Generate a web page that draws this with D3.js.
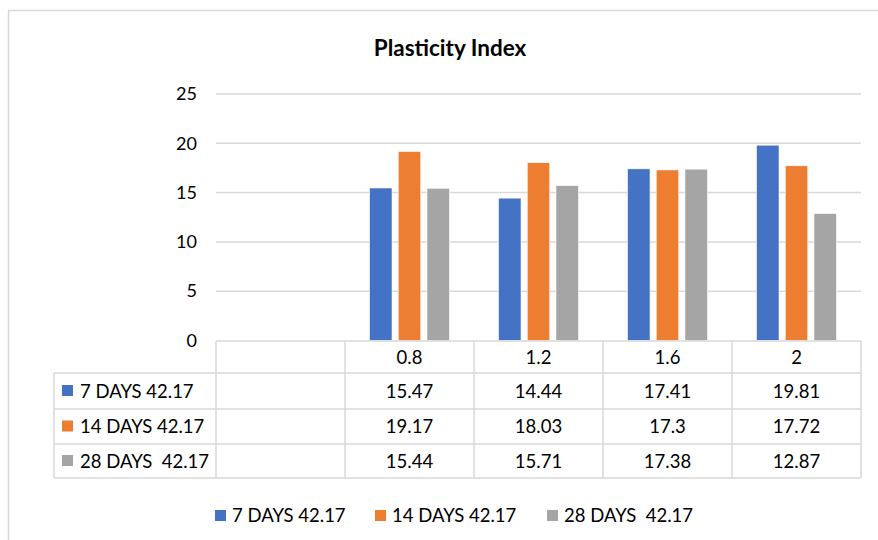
<!DOCTYPE html>
<html><head><meta charset="utf-8">
<script src="https://cdn.jsdelivr.net/npm/d3@7"></script>
<style>body{margin:0;background:#fff}svg{display:block}text{font-family:Lato,"Open Sans",sans-serif;fill:#000}</style>
</head><body><svg id="c" width="878" height="540"></svg>
<script>
const categories = ["", "0.8", "1.2", "1.6", "2"];
const seriesNames = ["7 DAYS 42.17", "14 DAYS 42.17", "28 DAYS  42.17"];
const days7 = [null, 15.47, 14.44, 17.41, 19.81];
const days14 = [null, 19.17, 18.03, 17.3, 17.72];
const days28 = [null, 15.44, 15.71, 17.38, 12.87];
const tableLabels7 = ["", "15.47", "14.44", "17.41", "19.81"];
const tableLabels14 = ["", "19.17", "18.03", "17.3", "17.72"];
const tableLabels28 = ["", "15.44", "15.71", "17.38", "12.87"];
const yTicks = [0, 5, 10, 15, 20, 25];
const colors = ["#4472C4", "#ED7D31", "#A5A5A5"];

const series = [days7, days14, days28];
const tableLabels = [tableLabels7, tableLabels14, tableLabels28];
const svg = d3.select("#c");
const grid = "#d9d9d9";
const fs = "18.5px";

// chart border
svg.append("rect").attr("x", 8.5).attr("y", 10.5).attr("width", 900).attr("height", 600)
  .attr("fill", "none").attr("stroke", grid).attr("stroke-width", 1.5);

// title
svg.append("text").attr("x", 450).attr("y", 56).attr("text-anchor", "middle")
  .style("font-weight", "bold").style("font-size", "22.5px").text("Plasticity Index");

const x0 = d3.scaleBand().domain(categories.map((d, i) => i)).range([216, 861]).padding(0);
const x1 = d3.scaleBand().domain([0, 1, 2]).range([24.5, 104.5]).paddingInner(0.216).paddingOuter(0);
const y = d3.scaleLinear().domain([0, 25]).range([340.5, 94]);

// gridlines
svg.append("g").selectAll("line").data(yTicks.filter(d => d > 0)).join("line")
  .attr("x1", 216).attr("x2", 861).attr("y1", d => y(d)).attr("y2", d => y(d))
  .attr("stroke", grid).attr("stroke-width", 1.5);

// y labels
const yAxis = d3.axisLeft(y).tickValues(yTicks).tickSize(0).tickPadding(0);
const ya = svg.append("g").attr("transform", "translate(197,0)").call(yAxis);
ya.select(".domain").remove();
ya.selectAll("text").style("font-size", "18px").style("font-family", "Lato,sans-serif").attr("fill", "#000");

// bars
const g = svg.append("g");
categories.forEach((c, ci) => {
  series.forEach((s, si) => {
    if (s[ci] == null) return;
    g.append("rect")
      .attr("x", x0(ci) + x1(si))
      .attr("y", y(s[ci]))
      .attr("width", x1.bandwidth())
      .attr("height", y(0) - y(s[ci]))
      .attr("fill", colors[si])
      .attr("stroke", "#fff").attr("stroke-width", 0.6);
  });
});

// table
const tableLeft = 54;
const rowY = [341, 373, 409, 444, 478];
const t = svg.append("g");
const lines = [];
lines.push([216, 861, rowY[0], rowY[0]]);
for (let r = 1; r < rowY.length; r++) lines.push([tableLeft, 861, rowY[r], rowY[r]]);
const colEdges = categories.map((d, i) => x0(i)).concat([x0.range()[1]]);
colEdges.forEach(xv => lines.push([xv, xv, rowY[0], rowY[4]]));
lines.push([tableLeft, tableLeft, rowY[1], rowY[4]]);
t.selectAll("line").data(lines).join("line")
  .attr("x1", d => d[0]).attr("x2", d => d[1]).attr("y1", d => d[2]).attr("y2", d => d[3])
  .attr("stroke", grid).attr("stroke-width", 1.5);

t.selectAll("text.cat").data(categories).join("text").attr("class", "cat")
  .attr("x", (d, i) => x0(i) + x0.bandwidth() / 2).attr("y", (rowY[0] + rowY[1]) / 2 + 6.5)
  .attr("text-anchor", "middle").style("font-size", fs).text(d => d);

seriesNames.forEach((name, si) => {
  const cy = (rowY[si + 1] + rowY[si + 2]) / 2;
  t.append("rect").attr("x", 62).attr("y", cy - 6).attr("width", 11).attr("height", 11).attr("fill", colors[si]);
  t.append("text").attr("x", 80).attr("y", cy + 6.5).style("font-size", fs).style("white-space", "pre").text(name);
  tableLabels[si].forEach((lab, ci) => {
    t.append("text").attr("x", x0(ci) + x0.bandwidth() / 2).attr("y", cy + 6.5)
      .attr("text-anchor", "middle").style("font-size", fs).text(lab);
  });
});

// legend
const legendX = [215, 375, 547];
seriesNames.forEach((name, si) => {
  const lg = svg.append("g");
  lg.append("rect").attr("x", legendX[si]).attr("y", 510).attr("width", 11).attr("height", 11).attr("fill", colors[si]);
  lg.append("text").attr("x", legendX[si] + 17).attr("y", 522).style("font-size", fs).style("white-space", "pre").text(name);
});
</script></body></html>
